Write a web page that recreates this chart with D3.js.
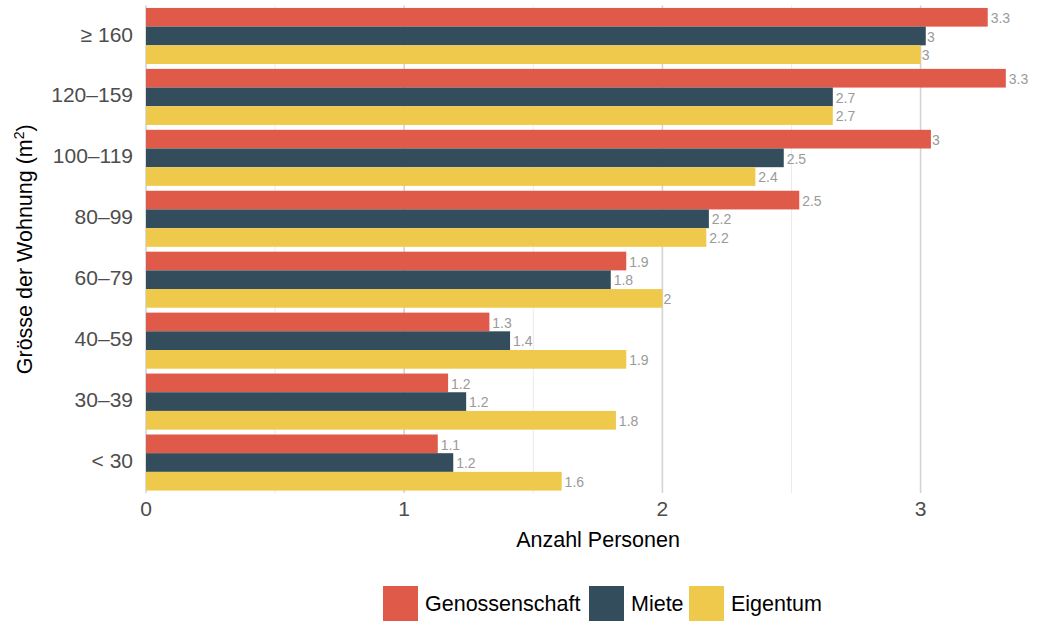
<!DOCTYPE html>
<html>
<head>
<meta charset="utf-8">
<script src="https://cdn.jsdelivr.net/npm/d3@7"></script>
<style>
  body { margin: 0; background: #fff; }
  text { font-family: "Liberation Sans", Arial, Helvetica, sans-serif; }
</style>
</head>
<body>
<svg id="chart" width="1037" height="622"></svg>
<script>
var categories = ["≥ 160", "120–159", "100–119", "80–99", "60–79", "40–59", "30–39", "< 30"];
var seriesNames = ["Genossenschaft", "Miete", "Eigentum"];
var genossenschaft = [3.26, 3.33, 3.04, 2.53, 1.86, 1.33, 1.17, 1.13];
var miete = [3.02, 2.66, 2.47, 2.18, 1.80, 1.41, 1.24, 1.19];
var eigentum = [3.00, 2.66, 2.36, 2.17, 2.00, 1.86, 1.82, 1.61];
var xTicks = [0, 1, 2, 3];
var xMinor = [0.5, 1.5, 2.5];
var colors = ["#DF5A49", "#334D5C", "#EFC94C"];

var seriesValues = [genossenschaft, miete, eigentum];
var data = [];
categories.forEach(function(c, i) {
  seriesNames.forEach(function(s, j) {
    data.push({cat: c, series: s, value: seriesValues[j][i]});
  });
});

var svg = d3.select("#chart");
var plotLeft = 146, plotTop = 5.5, plotBottom = 493;

var x = d3.scaleLinear().domain([0, 3.45]).range([plotLeft, plotLeft + 3.45 * 258.2]);
var y = d3.scaleBand().domain(categories).range([plotTop, plotBottom]).paddingInner(0.08).paddingOuter(0.04);
var ySub = d3.scaleBand().domain(seriesNames).range([0, y.bandwidth()]);
var color = d3.scaleOrdinal().domain(seriesNames).range(colors);

// grid
svg.append("g").selectAll("line").data(xMinor).enter().append("line")
  .attr("x1", function(d) { return x(d); }).attr("x2", function(d) { return x(d); })
  .attr("y1", plotTop).attr("y2", plotBottom)
  .attr("stroke", "#ebebeb").attr("stroke-width", 1);
svg.append("g").selectAll("line").data(xTicks).enter().append("line")
  .attr("x1", function(d) { return x(d); }).attr("x2", function(d) { return x(d); })
  .attr("y1", plotTop).attr("y2", plotBottom)
  .attr("stroke", "#d4d4d4").attr("stroke-width", 1.6);

// bars
var g = svg.append("g");
g.selectAll("rect").data(data).enter().append("rect")
  .attr("x", x(0))
  .attr("y", function(d) { return y(d.cat) + ySub(d.series); })
  .attr("width", function(d) { return x(d.value) - x(0); })
  .attr("height", ySub.bandwidth())
  .attr("fill", function(d) { return color(d.series); });

// value labels
g.selectAll("text").data(data).enter().append("text")
  .attr("x", function(d) { return x(d.value); })
  .attr("y", function(d) { return y(d.cat) + ySub(d.series) + ySub.bandwidth() / 2 + 2; })
  .attr("dominant-baseline", "middle")
  .attr("font-size", 14)
  .attr("fill", "#9a9a9a")
  .text(function(d) { return String(Math.round(d.value * 10) / 10); })
  .attr("dx", function() { return 0.15 * this.getComputedTextLength(); });

// y axis labels
svg.append("g").selectAll("text").data(categories).enter().append("text")
  .attr("x", 133)
  .attr("y", function(d) { return y(d) + y.bandwidth() / 2; })
  .attr("text-anchor", "end")
  .attr("dominant-baseline", "middle")
  .attr("font-size", 21)
  .attr("fill", "#4d4d4d")
  .text(function(d) { return d; });

// x axis labels
svg.append("g").selectAll("text").data(xTicks).enter().append("text")
  .attr("x", function(d) { return x(d); })
  .attr("y", 510)
  .attr("text-anchor", "middle")
  .attr("dominant-baseline", "middle")
  .attr("font-size", 21)
  .attr("fill", "#4d4d4d")
  .text(function(d) { return d; });

// titles
svg.append("text")
  .attr("x", 598).attr("y", 547)
  .attr("text-anchor", "middle")
  .attr("font-size", 21.5)
  .attr("fill", "#000")
  .text("Anzahl Personen");

var yt = svg.append("text")
  .attr("transform", "translate(32," + ((plotTop + plotBottom) / 2) + ") rotate(-90)")
  .attr("text-anchor", "middle")
  .attr("font-size", 21.5)
  .attr("fill", "#000");
yt.append("tspan").text("Grösse der Wohnung (m");
yt.append("tspan").attr("font-size", 14).attr("dy", -8).text("2");
yt.append("tspan").attr("dy", 8).text(")");

// legend
var legendX = [383, 589, 689];
var leg = svg.append("g").selectAll("g").data(seriesNames).enter().append("g")
  .attr("transform", function(d, i) { return "translate(" + legendX[i] + ",586)"; });
leg.append("rect").attr("width", 35).attr("height", 35)
  .attr("fill", function(d) { return color(d); });
leg.append("text").attr("x", 42).attr("y", 25)
  .attr("font-size", 21.5).attr("fill", "#000")
  .text(function(d) { return d; });
</script>
</body>
</html>
